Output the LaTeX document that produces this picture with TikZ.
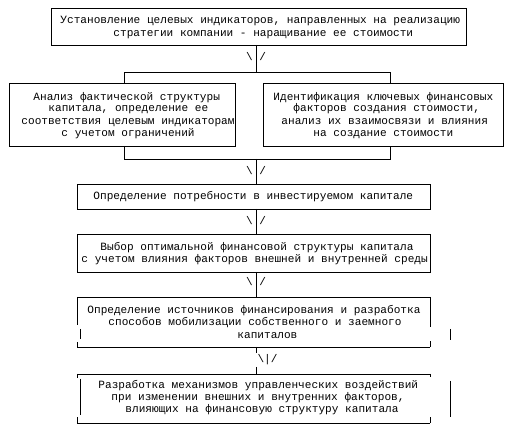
\documentclass[tikz,border=0pt]{standalone}
\usepackage{fontspec}
\newfontfamily\cour{Liberation Mono}
\begin{document}
\begin{tikzpicture}[x=1pt,y=-1pt,line width=0.9pt,
  box/.style={draw,rectangle,inner sep=0pt,outer sep=0pt},
  nobox/.style={rectangle,inner sep=0pt,outer sep=0pt},
  txt/.style={font=\cour\fontsize{11.1}{12.5}\selectfont,inner sep=0pt,anchor=base west},
  arr/.style={font=\cour\fontsize{11.1}{12.5}\selectfont,inner sep=0pt,anchor=base}]
\useasboundingbox[fill=white] (0,0) rectangle (512,438);

% boxes
\node[box,minimum width=415pt,minimum height=37pt] (b1) at (258.5,26.5) {};
\node[box,minimum width=226pt,minimum height=63pt] (b2) at (122,114.5) {};
\node[box,minimum width=240pt,minimum height=63pt] (b3) at (383,114.5) {};
\node[box,minimum width=353pt,minimum height=25pt] (b4) at (253.5,196.5) {};
\node[box,minimum width=353pt,minimum height=38pt] (b5) at (253.5,253) {};
\node[nobox,minimum width=353pt,minimum height=50pt] (b6) at (253.5,322) {};
\node[nobox,minimum width=353pt,minimum height=49pt] (b7) at (253.5,398.5) {};

% broken borders of b6
\draw (b6.north west) -- (b6.north east);
\draw (b6.south west) -- (b6.south east);
\draw (b6.north west) -- ++(0,28);
\draw ([xshift=3pt]b6.west) ++(0,7) -- ++(0,10);
\draw (b6.south west) -- ++(0,-5);
\draw (b6.north east) -- ++(0,30);
\draw ([xshift=20pt]b6.east) ++(0,7) -- ++(0,11);
\draw (b6.south east) -- ++(0,-6);
% broken borders of b7
\draw (b7.north west) -- (b7.north east);
\draw (b7.south west) -- (b7.south east);
\draw (b7.north west) -- ++(0,4);
\draw ([xshift=3pt]b7.north west) ++(0,5) -- ++(0,36);
\draw (b7.south west) -- ++(0,-6);
\draw (b7.north east) -- ++(0,3);
\draw ([xshift=20pt]b7.north east) ++(0,7) -- ++(0,36);
\draw (b7.south east) -- ++(0,-6);

% connectors
\coordinate (j1) at (256,72);
\coordinate (l1) at (124,72);
\coordinate (r1) at (390,72);
\coordinate (j2) at (256,159);
\coordinate (l2) at (124,159);
\coordinate (r2) at (390,159);
\coordinate (c1) at (256,353);
\coordinate (c2) at (256,367);
\draw (j1 |- b1.south) -- (j1);
\draw (l1 |- b2.north) -- (l1) -- (r1) -- (r1 |- b3.north);
\draw (l2 |- b2.south) -- (l2) -- (r2) -- (r2 |- b3.south);
\draw (j2) -- (j2 |- b4.north);
\draw (j2 |- b4.south) -- (j2 |- b5.north);
\draw (j2 |- b5.south) -- (j2 |- b6.north);
\draw (c1 |- b6.south) -- (c1);
\draw (c2) -- (c2 |- b7.north);

% arrow marks
\node[arr] (a1) at (256,61) {\textbackslash\ /};
\node[arr] (a2) at (256,175) {\textbackslash\ /};
\node[arr] (a3) at (256,225) {\textbackslash\ /};
\node[arr] (a4) at (256,286) {\textbackslash\ /};
\node[arr] (a5) at (267.5,363) {\textbackslash|/};

% texts
\node[txt] (t1a) at (60,23.5) {Установление целевых индикаторов, направленных на реализацию};
\node[txt] (t1b) at (113,36.5) {стратегии компании - наращивание ее стоимости};

\node[txt] (t2a) at (33,100.2) {Анализ фактической структуры};
\node[txt] (t2b) at (48,111.8) {капитала, определение ее};
\node[txt] (t2c) at (21,124.2) {соответствия целевым индикаторам};
\node[txt] (t2d) at (61,136.2) {с учетом ограничений};

\node[txt] (t3a) at (273,100.2) {Идентификация ключевых финансовых};
\node[txt] (t3b) at (293,111.8) {факторов создания стоимости,};
\node[txt] (t3c) at (281,124.2) {анализ их взаимосвязи и влияния};
\node[txt] (t3d) at (313,136.2) {на создание стоимости};

\node[txt] (t4a) at (93,199.5) {Определение потребности в инвестируемом капитале};

\node[txt] (t5a) at (100,250.5) {Выбор оптимальной финансовой структуры капитала};
\node[txt] (t5b) at (81,262.5) {с учетом влияния факторов внешней и внутренней среды};

\node[txt] (t6a) at (87,313.5) {Определение источников финансирования и разработка};
\node[txt] (t6b) at (108,325.5) {способов мобилизации собственного и заемного};
\node[txt] (t6c) at (237,338.5) {капиталов};

\node[txt] (t7a) at (98,388.5) {Разработка механизмов управленческих воздействий};
\node[txt] (t7b) at (111,400.5) {при изменении внешних и внутренних факторов,};
\node[txt] (t7c) at (125,412.5) {влияющих на финансовую структуру капитала};
\end{tikzpicture}
\end{document}
